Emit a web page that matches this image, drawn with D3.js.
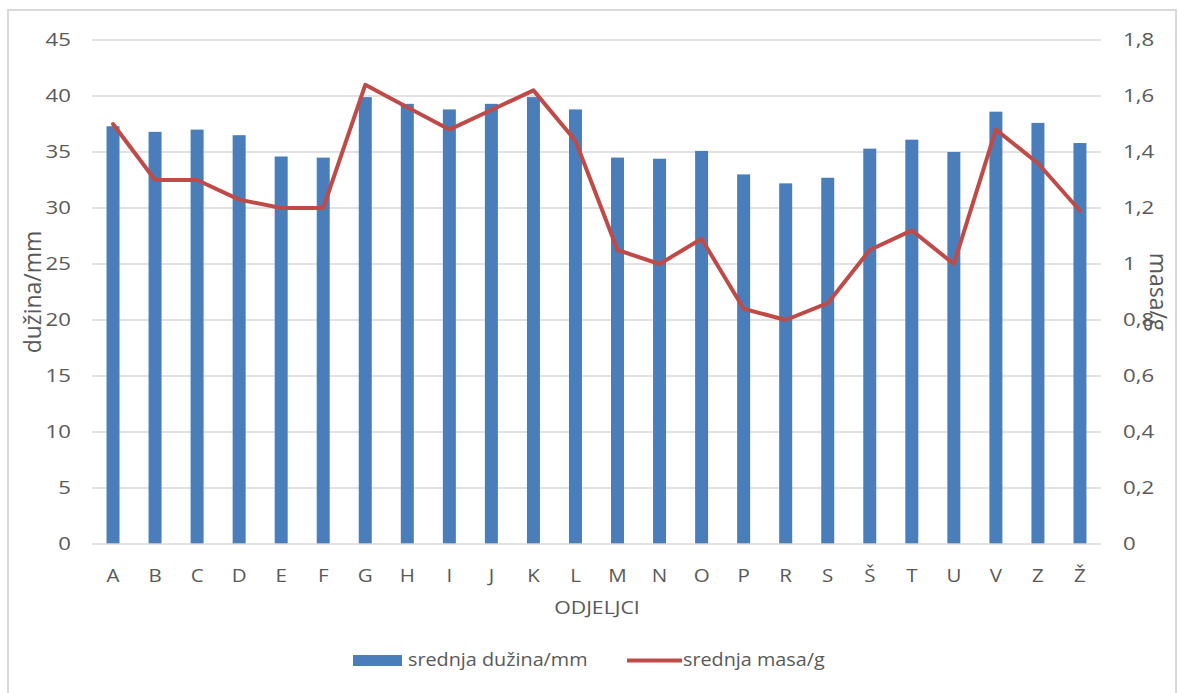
<!DOCTYPE html>
<html>
<head>
<meta charset="utf-8">
<script src="https://cdn.jsdelivr.net/npm/d3@7"></script>
<style>
  html, body { margin: 0; padding: 0; background: #fff; }
  svg text { font-family: "Open Sans", Lato, sans-serif; fill: #595959; }
</style>
</head>
<body>
<svg id="chart" width="1179" height="693"></svg>
<script>
// Compartments (odjeljci)
const categories = ["A","B","C","D","E","F","G","H","I","J","K","L","M","N","O","P","R","S","Š","T","U","V","Z","Ž"];
// Mean length per compartment, mm
const lengthValues = [37.3, 36.8, 37.0, 36.5, 34.6, 34.5, 39.9, 39.3, 38.8, 39.3, 39.9, 38.8, 34.5, 34.4, 35.1, 33.0, 32.2, 32.7, 35.3, 36.1, 35.0, 38.6, 37.6, 35.8];
// Mean mass per compartment, g
const massValues = [1.50, 1.30, 1.30, 1.23, 1.20, 1.20, 1.64, 1.56, 1.48, 1.55, 1.62, 1.44, 1.05, 1.00, 1.09, 0.84, 0.80, 0.86, 1.05, 1.12, 1.00, 1.48, 1.36, 1.19];
const leftTicks = [0, 5, 10, 15, 20, 25, 30, 35, 40, 45];
const rightTicks = [0, 0.2, 0.4, 0.6, 0.8, 1.0, 1.2, 1.4, 1.6, 1.8];

const svg = d3.select("#chart");
const plot = { left: 92, right: 1101, top: 40, bottom: 544 };

const barColor = "#4a7ebb";
const lineColor = "#be4b48";
const gridColor = "#d9d9d9";
const font = "'Open Sans', Lato, sans-serif";

// chart frame
svg.append("rect")
  .attr("x", 8).attr("y", 10)
  .attr("width", 1168).attr("height", 700)
  .attr("fill", "#fff")
  .attr("stroke", "#d9d9d9").attr("stroke-width", 2);

const xc = d3.scaleBand().domain(categories).range([plot.left, plot.right]);
const yL = d3.scaleLinear().domain([0, 45]).range([plot.bottom, plot.top]);
const yR = d3.scaleLinear().domain([0, 1.8]).range([plot.bottom, plot.top]);
const cx = c => xc(c) + xc.bandwidth() / 2;

// gridlines
svg.append("g")
  .selectAll("line")
  .data(leftTicks.slice(1))
  .join("line")
  .attr("x1", plot.left).attr("x2", plot.right)
  .attr("y1", d => yL(d)).attr("y2", d => yL(d))
  .attr("stroke", gridColor).attr("stroke-width", 1.3);

// bars
svg.append("g")
  .selectAll("rect")
  .data(lengthValues)
  .join("rect")
  .attr("x", (d, i) => cx(categories[i]) - 6.5)
  .attr("width", 13)
  .attr("y", d => yL(d))
  .attr("height", d => yL(0) - yL(d))
  .attr("fill", barColor);

// baseline
svg.append("line")
  .attr("x1", plot.left).attr("x2", plot.right)
  .attr("y1", yL(0)).attr("y2", yL(0))
  .attr("stroke", gridColor).attr("stroke-width", 1.3);

// mass line
const line = d3.line()
  .x((d, i) => cx(categories[i]))
  .y(d => yR(d));
svg.append("path")
  .datum(massValues)
  .attr("d", line)
  .attr("fill", "none")
  .attr("stroke", lineColor)
  .attr("stroke-width", 4)
  .attr("stroke-linejoin", "round")
  .attr("stroke-linecap", "round");

// left axis
const leftAxis = d3.axisLeft(yL).tickValues(leftTicks).tickSize(0).tickPadding(0);
const gL = svg.append("g").attr("transform", "translate(71,0)").call(leftAxis);
gL.select(".domain").remove();
gL.selectAll("text").style("font-size", "18.5px").style("font-family", font)
  .attr("fill", "#595959").attr("transform", "scale(1.2,1)");

// right axis
const fmt = d => d === 0 ? "0" : (d === 1 ? "1" : d3.format(".1f")(d).replace(".", ","));
const rightAxis = d3.axisRight(yR).tickValues(rightTicks).tickSize(0).tickPadding(0).tickFormat(fmt);
const gR = svg.append("g").attr("transform", "translate(1123,0)").call(rightAxis);
gR.select(".domain").remove();
gR.selectAll("text").style("font-size", "18.5px").style("font-family", font)
  .attr("fill", "#595959").attr("transform", "scale(1.2,1)");

// category axis
const bottomAxis = d3.axisBottom(xc).tickSize(0).tickPadding(0);
const gB = svg.append("g").attr("transform", "translate(0,569)").call(bottomAxis);
gB.select(".domain").remove();
gB.selectAll("text").style("font-size", "19px").style("font-family", font)
  .attr("fill", "#595959").attr("transform", "scale(1.08,1)");

// axis titles
svg.append("text")
  .attr("transform", "translate(597,614) scale(1.12,1)")
  .attr("text-anchor", "middle")
  .style("font-size", "19px")
  .text("ODJELJCI");

svg.append("text")
  .attr("transform", `translate(41,${(plot.top + plot.bottom) / 2}) rotate(-90)`)
  .attr("text-anchor", "middle")
  .style("font-size", "23px")
  .text("dužina/mm");

svg.append("text")
  .attr("transform", `translate(1150,${(plot.top + plot.bottom) / 2}) rotate(90)`)
  .attr("text-anchor", "middle")
  .style("font-size", "23px")
  .text("masa/g");

// legend
const lg = svg.append("g");
lg.append("rect").attr("x", 353).attr("y", 655).attr("width", 49).attr("height", 11).attr("fill", barColor);
lg.append("text").attr("transform", "translate(408,666) scale(1.1,1)").style("font-size", "18px").text("srednja dužina/mm");
lg.append("line").attr("x1", 627).attr("x2", 682).attr("y1", 660.5).attr("y2", 660.5)
  .attr("stroke", lineColor).attr("stroke-width", 4);
lg.append("text").attr("transform", "translate(683,666) scale(1.1,1)").style("font-size", "18px").text("srednja masa/g");
</script>
</body>
</html>
